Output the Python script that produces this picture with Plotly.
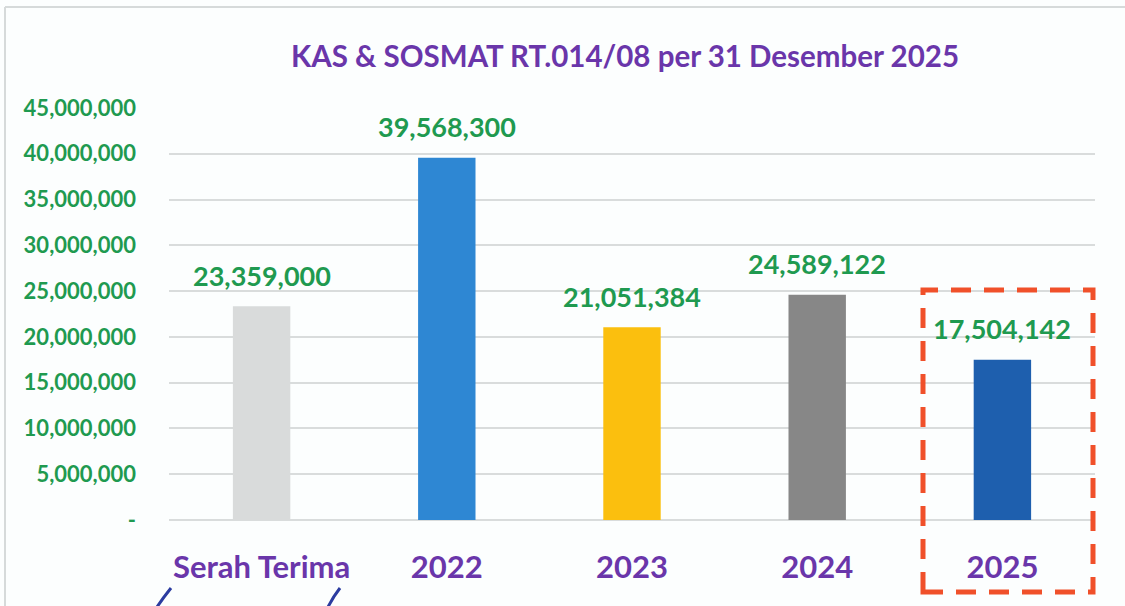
import plotly.graph_objects as go

categories = ["Serah Terima", "2022", "2023", "2024", "2025"]
values = [23359000, 39568300, 21051384, 24589122, 17504142]
bar_colors = ["#d9dbdb", "#2e87d3", "#fbbf0e", "#878787", "#1e5fae"]
tick_vals = [0, 5000000, 10000000, 15000000, 20000000, 25000000, 30000000, 35000000, 40000000, 45000000]
tick_text = ["-", "5,000,000", "10,000,000", "15,000,000", "20,000,000", "25,000,000",
             "30,000,000", "35,000,000", "40,000,000", "45,000,000"]
title_text = "KAS & SOSMAT RT.014/08 per 31 Desember 2025"

W, H = 1125, 606
L, R, T, B = 169, 30, 108, 86
PW, PH = W - L - R, H - T - B

GREEN = "#1f9a50"
PURPLE = "#6a36aa"
FONT = "Lato"

def px(x):
    return (x - L) / PW

def py(y):
    return (H - B - y) / PH

fig = go.Figure()
fig.add_trace(go.Bar(
    x=categories, y=values, marker=dict(color=bar_colors, line=dict(width=0)),
    hoverinfo="skip",
))

for i, v in enumerate(values):
    fig.add_annotation(x=i, y=v, text=f"{v:,}", showarrow=False, yshift=31,
                       font=dict(family=FONT, size=27, color=GREEN, weight="bold"))

shapes = []
# chart border (left & top)
shapes.append(dict(type="line", xref="paper", yref="paper", x0=px(5), x1=px(5), y0=py(7), y1=py(620),
                   line=dict(color="#d6dada", width=2)))
shapes.append(dict(type="line", xref="paper", yref="paper", x0=px(5), x1=px(1130), y0=py(7), y1=py(7),
                   line=dict(color="#d6dada", width=2)))
# red dashed highlight box
shapes.append(dict(type="rect", xref="paper", yref="paper", x0=px(923), x1=px(1093), y0=py(592), y1=py(290),
                   line=dict(color="#f0502a", width=5, dash="20px,13px")))
# hand-drawn pen strokes
shapes.append(dict(type="path", xref="paper", yref="paper",
                   path=f"M {px(157)} {py(607)} Q {px(163)} {py(598)} {px(171)} {py(588)}",
                   line=dict(color="#2b3ca0", width=3)))
shapes.append(dict(type="path", xref="paper", yref="paper",
                   path=f"M {px(328)} {py(607)} Q {px(333)} {py(597)} {px(340)} {py(588)}",
                   line=dict(color="#2b3ca0", width=3)))

fig.update_layout(
    width=W, height=H,
    margin=dict(l=L, r=R, t=T, b=B),
    paper_bgcolor="#fcfefe", plot_bgcolor="#fcfefe",
    bargap=0.69,
    showlegend=False,
    title=dict(text=title_text, x=px(625), xanchor="center", y=1 - 57 / H, yanchor="middle",
               xref="paper", yref="container",
               font=dict(family=FONT, size=29.5, color=PURPLE, weight="bold")),
    shapes=shapes,
    xaxis=dict(type="category", range=[-0.5, len(categories) - 0.5],
               showgrid=False, showline=False, zeroline=False, ticks="",
               tickfont=dict(family=FONT, size=31, color=PURPLE, weight="bold"),
               ticklabelstandoff=26),
    yaxis=dict(range=[0, 45000000], tickvals=tick_vals, ticktext=tick_text,
               showgrid=True, gridcolor="#d9dcdc", gridwidth=1.5,
               zeroline=True, zerolinecolor="#d9dcdc", zerolinewidth=1.5,
               showline=False, ticks="",
               tickfont=dict(family=FONT, size=22, color=GREEN, weight="bold"),
               ticklabelstandoff=32),
)

fig.write_html("out.html", config={"displayModeBar": False},
               post_script="document.body.style.margin='0';document.body.style.overflow='hidden';")
